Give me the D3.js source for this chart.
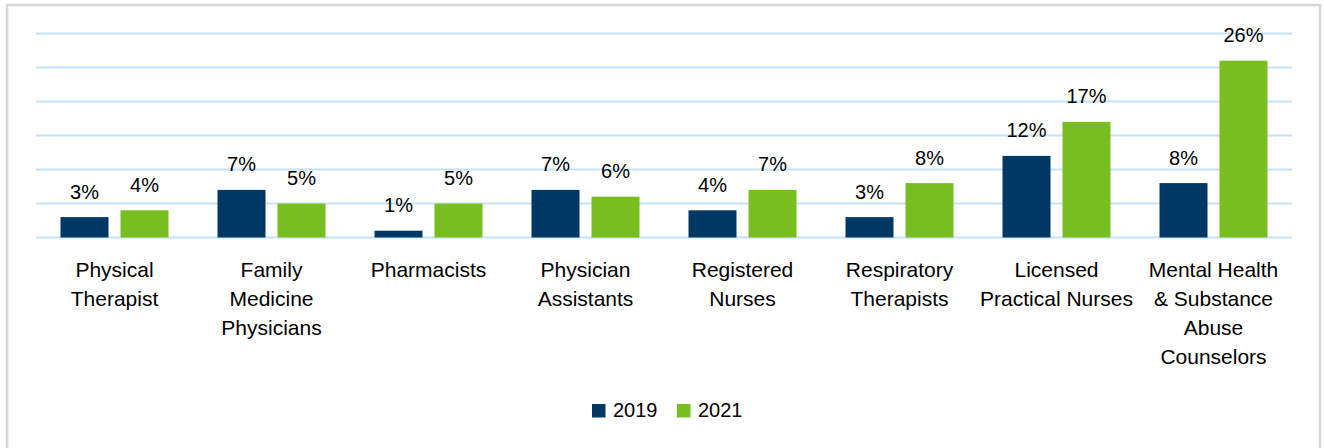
<!DOCTYPE html>
<html>
<head>
<meta charset="utf-8">
<script src="https://cdn.jsdelivr.net/npm/d3@7"></script>
<style>
  body { margin: 0; background: #fff; }
  text { font-family: "Liberation Sans", Arial, sans-serif; fill: #000; }
</style>
</head>
<body>
<script>
// chart data
var categories = ["Physical Therapist", "Family Medicine Physicians", "Pharmacists",
  "Physician Assistants", "Registered Nurses", "Respiratory Therapists",
  "Licensed Practical Nurses", "Mental Health & Substance Abuse Counselors"];
// how each label wraps in the picture
var categoryLines = [
  ["Physical", "Therapist"],
  ["Family", "Medicine", "Physicians"],
  ["Pharmacists"],
  ["Physician", "Assistants"],
  ["Registered", "Nurses"],
  ["Respiratory", "Therapists"],
  ["Licensed", "Practical Nurses"],
  ["Mental Health", "& Substance", "Abuse", "Counselors"]
];
var seriesNames = ["2019", "2021"];
var values2019 = [3, 7, 1, 7, 4, 3, 12, 8];
var values2021 = [4, 5, 5, 6, 7, 8, 17, 26];
var gridTicks = [0, 5, 10, 15, 20, 25, 30];

var svgWidth = 1324;
var svgHeight = 448;
var colors = {"2019": "#003865", "2021": "#78be20"};

var svg = d3.select("body")
  .append("svg")
  .attr("width", svgWidth)
  .attr("height", svgHeight);

// outer frame
svg.append("rect")
  .attr("x", 7)
  .attr("y", 5)
  .attr("width", 1313)
  .attr("height", 460)
  .attr("fill", "#fff")
  .attr("stroke", "#d6d6d6")
  .attr("stroke-width", 2.5);

var x0 = d3.scaleBand()
  .domain(categories)
  .range([36, 1292]);

var x1 = d3.scaleBand()
  .domain(seriesNames)
  .range([24.5, 132.5])
  .paddingInner(0.2);

var y = d3.scaleLinear()
  .domain([0, 30])
  .range([237.5, 33.5]);

// gridlines
svg.append("g")
  .selectAll("line")
  .data(gridTicks)
  .enter().append("line")
  .attr("x1", 36)
  .attr("x2", 1292)
  .attr("y1", d => y(d))
  .attr("y2", d => y(d))
  .attr("stroke", "#c4e2f9")
  .attr("stroke-width", 2);

var rows = categories.map((c, i) => ({cat: c, vals: [values2019[i], values2021[i]]}));

var groups = svg.append("g")
  .selectAll("g")
  .data(rows)
  .enter().append("g")
  .attr("transform", d => `translate(${x0(d.cat)},0)`);

groups.selectAll("rect")
  .data(d => d.vals.map((v, j) => ({name: seriesNames[j], v: v})))
  .enter().append("rect")
  .attr("x", d => x1(d.name))
  .attr("width", x1.bandwidth())
  .attr("y", d => y(d.v))
  .attr("height", d => y(0) - y(d.v))
  .attr("fill", d => colors[d.name]);

// value labels
groups.selectAll("text.val")
  .data(d => d.vals.map((v, j) => ({name: seriesNames[j], v: v})))
  .enter().append("text")
  .attr("class", "val")
  .attr("x", d => x1(d.name) + x1.bandwidth() / 2)
  .attr("y", d => y(d.v) - 18.5)
  .attr("text-anchor", "middle")
  .attr("font-size", 20)
  .text(d => d.v + "%");

// category labels
groups.append("text")
  .attr("x", x0.bandwidth() / 2)
  .attr("y", 277)
  .attr("text-anchor", "middle")
  .attr("font-size", 21)
  .selectAll("tspan")
  .data((d, i) => categoryLines[i])
  .enter().append("tspan")
  .attr("x", x0.bandwidth() / 2)
  .attr("dy", (d, i) => i === 0 ? 0 : 29)
  .text(d => d);

// legend
var legend = svg.append("g")
  .selectAll("g")
  .data(seriesNames)
  .enter().append("g")
  .attr("transform", (d, i) => `translate(${592 + i * 85},404)`);

legend.append("rect")
  .attr("width", 13.5)
  .attr("height", 13.5)
  .attr("fill", d => colors[d]);

legend.append("text")
  .attr("x", 21)
  .attr("y", 13)
  .attr("font-size", 20)
  .text(d => d);
</script>
</body>
</html>
